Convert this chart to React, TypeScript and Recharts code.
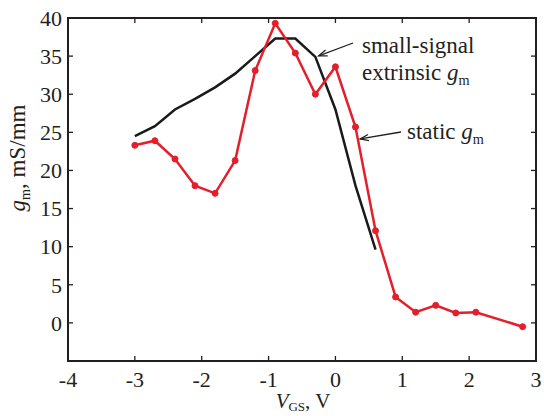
import { LineChart, Line, XAxis, YAxis } from "recharts";

// static gm (red, with markers)
const staticVgs = [-3, -2.7, -2.4, -2.1, -1.8, -1.5, -1.2, -0.9, -0.6, -0.3, 0, 0.3, 0.6, 0.9, 1.2, 1.5, 1.8, 2.1, 2.8];
const staticGm = [23.3, 23.9, 21.5, 18.0, 17.0, 21.3, 33.1, 39.3, 35.4, 30.0, 33.6, 25.7, 12.1, 3.4, 1.4, 2.3, 1.3, 1.4, -0.5];

// small-signal extrinsic gm (black)
const smallVgs = [-3, -2.7, -2.4, -2.1, -1.8, -1.5, -1.2, -0.9, -0.6, -0.3, 0, 0.3, 0.6];
const smallGm = [24.5, 25.8, 28.0, 29.4, 30.9, 32.7, 35.0, 37.3, 37.3, 34.9, 28.0, 18.0, 9.6];

const xTicks = [-4, -3, -2, -1, 0, 1, 2, 3];
const yTicks = [-5, 0, 5, 10, 15, 20, 25, 30, 35, 40];
const X_DOMAIN: [number, number] = [-4, 3];
const Y_DOMAIN: [number, number] = [-5, 40];

const W = 544;
const H = 416;
const M = { top: 18, right: 8, left: 0, bottom: 0 };
const Y_W = 68;
const X_H = 55;
const FONT = "'Times New Roman', 'Liberation Serif', Times, serif";
const INK = "#231f20";
const FS = 22;

const staticData = staticVgs.map((v, i) => ({ v, gm: staticGm[i] }));
const smallData = smallVgs.map((v, i) => ({ v, gm: smallGm[i] }));

// data -> pixel helpers for the frame / annotation overlay
const plotL = M.left + Y_W;
const plotR = W - M.right;
const plotT = M.top;
const plotB = H - M.bottom - X_H;
const px = (x: number) => plotL + ((x - X_DOMAIN[0]) / (X_DOMAIN[1] - X_DOMAIN[0])) * (plotR - plotL);
const py = (y: number) => plotB - ((y - Y_DOMAIN[0]) / (Y_DOMAIN[1] - Y_DOMAIN[0])) * (plotB - plotT);

const tickStyle = { fill: INK, fontSize: FS, fontFamily: FONT };
const txt = { fontFamily: FONT };

const Arrow = ({ x1, y1, x2, y2 }: { x1: number; y1: number; x2: number; y2: number }) => {
  const a = Math.atan2(y2 - y1, x2 - x1);
  const L = 9;
  const w = 0.35;
  return (
    <g stroke={INK} strokeWidth={1.3} fill="none">
      <line x1={x1} y1={y1} x2={x2} y2={y2} />
      <polyline
        points={`${x2 - L * Math.cos(a - w)},${y2 - L * Math.sin(a - w)} ${x2},${y2} ${x2 - L * Math.cos(a + w)},${y2 - L * Math.sin(a + w)}`}
      />
    </g>
  );
};

const Gm = ({ size }: { size: number }) => (
  <>
    <tspan fontStyle="italic">g</tspan>
    <tspan fontSize={size * 0.62} dy={size * 0.2}>m</tspan>
  </>
);

export default function App() {
  const tk = 5;
  return (
    <div style={{ position: "absolute", left: 0, top: 0, width: W, height: H, background: "#fff", fontFamily: FONT }}>
      <LineChart width={W} height={H} margin={M} style={{ fontFamily: FONT }}>
        <XAxis
          dataKey="v"
          type="number"
          domain={X_DOMAIN}
          ticks={xTicks}
          allowDataOverflow
          height={X_H}
          tick={tickStyle}
          tickLine={false}
          axisLine={false}
          tickMargin={4}
        />
        <YAxis
          type="number"
          domain={Y_DOMAIN}
          ticks={yTicks}
          width={Y_W}
          tick={tickStyle}
          tickFormatter={(t: number) => (t === -5 ? "" : String(t))}
          tickLine={false}
          axisLine={false}
          tickMargin={0}
        />
        <Line
          data={smallData}
          dataKey="gm"
          type="linear"
          stroke="#1a1a1a"
          strokeWidth={2.5}
          dot={false}
          isAnimationActive={false}
        />
        <Line
          data={staticData}
          dataKey="gm"
          type="linear"
          stroke="#e41e2b"
          strokeWidth={2.5}
          dot={{ r: 3, fill: "#e41e2b", stroke: "#e41e2b", strokeWidth: 1 }}
          isAnimationActive={false}
        />
      </LineChart>
      <svg
        width={W}
        height={H}
        style={{ position: "absolute", left: 0, top: 0, pointerEvents: "none", fontFamily: FONT }}
        fill={INK}
      >
        {/* frame with inward ticks */}
        <rect x={plotL} y={plotT} width={plotR - plotL} height={plotB - plotT} fill="none" stroke={INK} strokeWidth={2} />
        <g stroke={INK} strokeWidth={1.3}>
          {xTicks.map((t) => (
            <g key={"x" + t}>
              <line x1={px(t)} x2={px(t)} y1={plotB} y2={plotB - tk} />
              <line x1={px(t)} x2={px(t)} y1={plotT} y2={plotT + tk} />
            </g>
          ))}
          {yTicks.map((t) => (
            <g key={"y" + t}>
              <line y1={py(t)} y2={py(t)} x1={plotL} x2={plotL + tk} />
              <line y1={py(t)} y2={py(t)} x1={plotR} x2={plotR - tk} />
            </g>
          ))}
        </g>

        {/* axis titles */}
        <text x={303} y={408} textAnchor="middle" fontSize={21} style={txt}>
          <tspan fontStyle="italic">V</tspan>
          <tspan fontSize={13} dy={3}>GS</tspan>
          <tspan dy={-3}>, V</tspan>
        </text>
        <text transform="translate(25,158) rotate(-90)" textAnchor="middle" fontSize={23} style={txt}>
          <Gm size={23} />
          <tspan dy={-23 * 0.2}>, mS/mm</tspan>
        </text>

        {/* annotations */}
        <Arrow x1={353} y1={43} x2={px(-0.28) + 2} y2={py(34.9) - 1} />
        <text x={362} y={53} fontSize={23} style={txt}>small-signal</text>
        <text x={362} y={80} fontSize={23} style={txt}>
          extrinsic <Gm size={23} />
        </text>
        <Arrow x1={401} y1={132} x2={px(0.37)} y2={py(24) - 1} />
        <text x={407} y={139} fontSize={23} style={txt}>
          static <Gm size={23} />
        </text>
      </svg>
    </div>
  );
}
